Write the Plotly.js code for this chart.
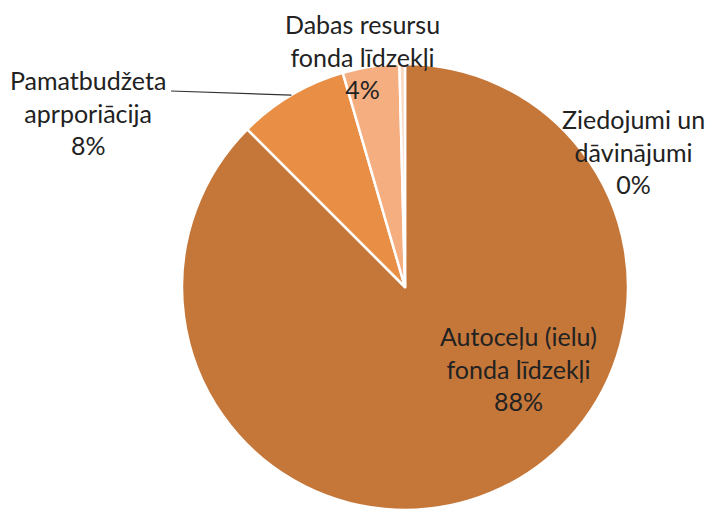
<!DOCTYPE html>
<html><head><meta charset="utf-8">
<script src="https://cdn.plot.ly/plotly-3.0.1.min.js"></script>
<style>html,body{margin:0;padding:0;background:#fff;}#c{width:705px;height:511px;}</style>
</head><body><div id="c"></div>
<script>
const labels = ["Autoceļu (ielu)<br>fonda līdzekļi", "Pamatbudžeta<br>aprporiācija", "Dabas resursu<br>fonda līdzekļi", "Ziedojumi un<br>dāvinājumi"];
const values = [87.5, 8.0, 4.1, 0.4];
const colors = ["#C5773A", "#E98E45", "#F5AE80", "#FAD9C1"];
// label anchor positions (pixels in the 705x511 figure)
const labelX = [518, 88, 362, 633];
const labelY = [368, 113, 56, 151];

const W = 705, H = 511;
const cx = 405, cy = 287, R = 223;
const total = values.reduce((a, b) => a + b, 0);

const annotations = labels.map((l, i) => ({
  xref: 'paper', yref: 'paper',
  x: labelX[i] / W, y: 1 - labelY[i] / H,
  xanchor: 'center', yanchor: 'middle',
  text: l + '<br>' + Math.round(values[i] / total * 100) + '%',
  showarrow: false, align: 'center',
  font: {family: 'Lato, "Open Sans", sans-serif', size: 25, color: '#222222'}
}));

// leader line for Pamatbudžeta: from label to slice mid-angle on the rim
let cum = 0; const mid = [];
values.forEach(v => { mid.push((cum + v / 2) / total * 2 * Math.PI); cum += v; });
const a1 = mid[1];
const ex = cx + R * Math.sin(a1), ey = cy - R * Math.cos(a1);
const shapes = [{
  type: 'line', xref: 'paper', yref: 'paper',
  x0: 171 / W, y0: 1 - 91 / H, x1: ex / W, y1: 1 - ey / H,
  line: {color: '#333', width: 1.2}
}];

const data = [{
  type: 'pie', labels: labels, values: values, sort: false, direction: 'clockwise', rotation: 0,
  marker: {colors: colors, line: {color: '#ffffff', width: 2.5}},
  textinfo: 'none', hoverinfo: 'none', showlegend: false,
  domain: {x: [(cx - R) / W, (cx + R) / W], y: [1 - (cy + R) / H, 1 - (cy - R) / H]}
}];
const layout = {
  width: W, height: H, margin: {l: 0, r: 0, t: 0, b: 0},
  paper_bgcolor: '#fff', plot_bgcolor: '#fff', showlegend: false,
  annotations: annotations, shapes: shapes
};
Plotly.newPlot('c', data, layout, {displayModeBar: false, staticPlot: true});
</script></body></html>
